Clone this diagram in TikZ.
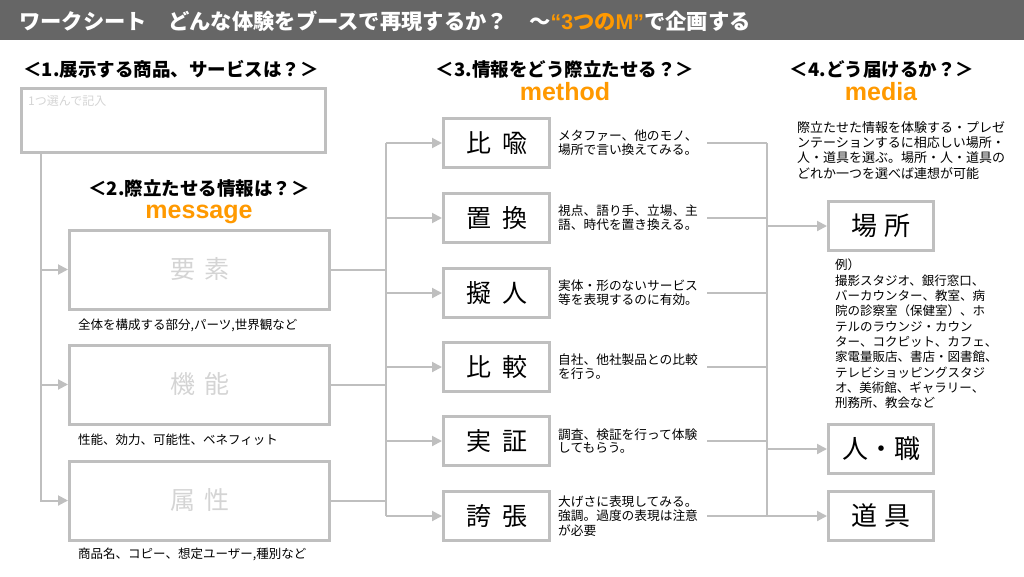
\documentclass[tikz,border=0pt]{standalone}
\usepackage{fontspec}
\setmainfont{Noto Sans CJK JP}
\newfontfamily\latf{Liberation Sans}
\usetikzlibrary{arrows.meta}
\definecolor{lc}{RGB}{191,191,191}
\definecolor{org}{RGB}{255,153,0}
\definecolor{bar}{RGB}{102,102,102}
\definecolor{faint}{RGB}{212,212,212}
\begin{document}
\begin{tikzpicture}[x=1pt,y=-1pt,
 box/.style={draw=lc,line width=3pt,inner sep=0pt},
 msgbox/.style={box,minimum width=260pt,minimum height=79pt,text=faint,font=\fontsize{25}{25}\selectfont},
 mthbox/.style={box,minimum width=106pt,minimum height=49pt,font=\fontsize{25}{25}\selectfont},
 medbox/.style={box,minimum width=105pt,minimum height=49pt,font=\fontsize{26}{26}\selectfont},
 head/.style={font=\fontsize{18.5}{18.5}\selectfont\bfseries,inner sep=0pt},
 key/.style={font=\fontsize{25}{25}\selectfont\latf\bfseries,text=org,inner sep=0pt,anchor=base},
 desc/.style={font=\fontsize{12.7}{13.8}\selectfont,inner sep=0pt,anchor=west,text width=146pt,align=left},
 para/.style={inner sep=0pt,anchor=north west,align=left},
 capt/.style={font=\fontsize{12.5}{14}\selectfont,inner sep=0pt,anchor=west},
 conn/.style={draw=lc,line width=2pt},
 arr/.style={conn,-{Triangle[length=10pt,width=10pt]}},
]
\useasboundingbox (0,0) rectangle (1024,576);
\fill[bar] (0,0) rectangle (1024,40);
\node[anchor=west,inner sep=0pt,text=white,font=\fontsize{21.3}{21.3}\selectfont\bfseries] (title) at (19,21)
 {ワークシート　どんな体験をブースで再現するか？　～\textcolor{org}{{\latf “3}つの{\latf M”}}で企画する};

% headings
\node[head] (h1) at (171,69.5) {＜1.展示する商品、サービスは？＞};
\node[head] (h2) at (199,188.5) {＜2.際立たせる情報は？＞};
\node[head] (h3) at (565,69.5) {＜3.情報をどう際立たせる？＞};
\node[head] (h4) at (882,69.5) {＜4.どう届けるか？＞};
\node[key,text height=13pt,text depth=5pt] (k2) at (199,218) {message};
\node[key] (k3) at (565,100) {method};
\node[key] (k4) at (881,100) {media};

% box 1
\node[box,minimum width=304pt,minimum height=64pt] (box1) at (173.5,120.5) {};
\node[inner sep=0pt,anchor=west,text=faint,font=\fontsize{12}{12}\selectfont] (b1t) at (28,101) {1つ選んで記入};

% message boxes
\node[msgbox] (yoso) at (199.5,269.5) {要\hspace{9pt}素};
\node[msgbox] (kino) at (199.5,384.5) {機\hspace{9pt}能};
\node[msgbox] (zoku) at (199.5,500.5) {属\hspace{9pt}性};
\node[capt] (c1) at (78,325) {全体を構成する部分,パーツ,世界観など};
\node[capt] (c2) at (78,440) {性能、効力、可能性、ベネフィット};
\node[capt] (c3) at (78,554) {商品名、コピー、想定ユーザー,種別など};

% method boxes
\node[mthbox] (hiyu) at (496.5,143) {比\hspace{11pt}喩};
\node[mthbox] (chikan) at (496.5,218) {置\hspace{11pt}換};
\node[mthbox] (gijin) at (496.5,293) {擬\hspace{11pt}人};
\node[mthbox] (hikaku) at (496.5,367) {比\hspace{11pt}較};
\node[mthbox] (jissho) at (496.5,441) {実\hspace{11pt}証};
\node[mthbox] (kocho) at (496.5,516) {誇\hspace{11pt}張};

\node[desc] (d1) at (558,143) {メタファー、他のモノ、\\場所で言い換えてみる。};
\node[desc] (d2) at (558,218) {視点、語り手、立場、主\\語、時代を置き換える。};
\node[desc] (d3) at (558,293) {実体・形のないサービス\\等を表現するのに有効。};
\node[desc] (d4) at (558,367) {自社、他社製品との比較\\を行う。};
\node[desc] (d5) at (558,441) {調査、検証を行って体験\\してもらう。};
\node[desc,font=\fontsize{12.7}{14.6}\selectfont] (d6) at (558,516) {大げさに表現してみる。\\強調。過度の表現は注意\\が必要};

% media
\node[para,font=\fontsize{13}{15.4}\selectfont] (md) at (797,121)
 {際立たせた情報を体験する・プレゼ\\ンテーションするに相応しい場所・\\人・道具を選ぶ。場所・人・道具の\\どれか一つを選べば連想が可能};
\node[medbox] (basho) at (881,226) {場\hspace{7pt}所};
\node[medbox] (hito) at (881,449) {人・職};
\node[medbox] (dogu) at (881,516) {道\hspace{7pt}具};
\node[para,font=\fontsize{12.5}{15.3}\selectfont] (ex) at (835,259)
 {例）\\撮影スタジオ、銀行窓口、\\バーカウンター、教室、病\\院の診察室（保健室）、ホ\\テルのラウンジ・カウン\\ター、コクピット、カフェ、\\家電量販店、書店・図書館、\\テレビショッピングスタジ\\オ、美術館、ギャラリー、\\刑務所、教会など};

% trunks
\coordinate (t1) at (41,0);
\coordinate (t2) at (386,0);
\coordinate (t3) at (767,0);

\draw[arr] (box1.south -| t1) |- (yoso);
\draw[arr] (box1.south -| t1) |- (kino);
\draw[arr] (box1.south -| t1) |- (zoku);

\draw[conn] (yoso.east) -- (yoso.east -| t2);
\draw[conn] (kino.east) -- (kino.east -| t2);
\draw[conn] (zoku.east) -- (zoku.east -| t2);
\draw[conn] (hiyu -| t2) -- (kocho -| t2);
\foreach \n in {hiyu,chikan,gijin,hikaku,jissho,kocho}
  \draw[arr] (\n -| t2) -- (\n);

\foreach \d/\n in {d1/hiyu,d2/chikan,d3/gijin,d4/hikaku,d5/jissho,d6/kocho}
  \draw[conn] (\n -| \d.east) ++(3,0) -- (\n -| t3);
\draw[conn] (hiyu -| t3) -- (kocho -| t3);
\foreach \n in {basho,hito,dogu}
  \draw[arr] (\n -| t3) -- (\n);
\end{tikzpicture}
\end{document}
